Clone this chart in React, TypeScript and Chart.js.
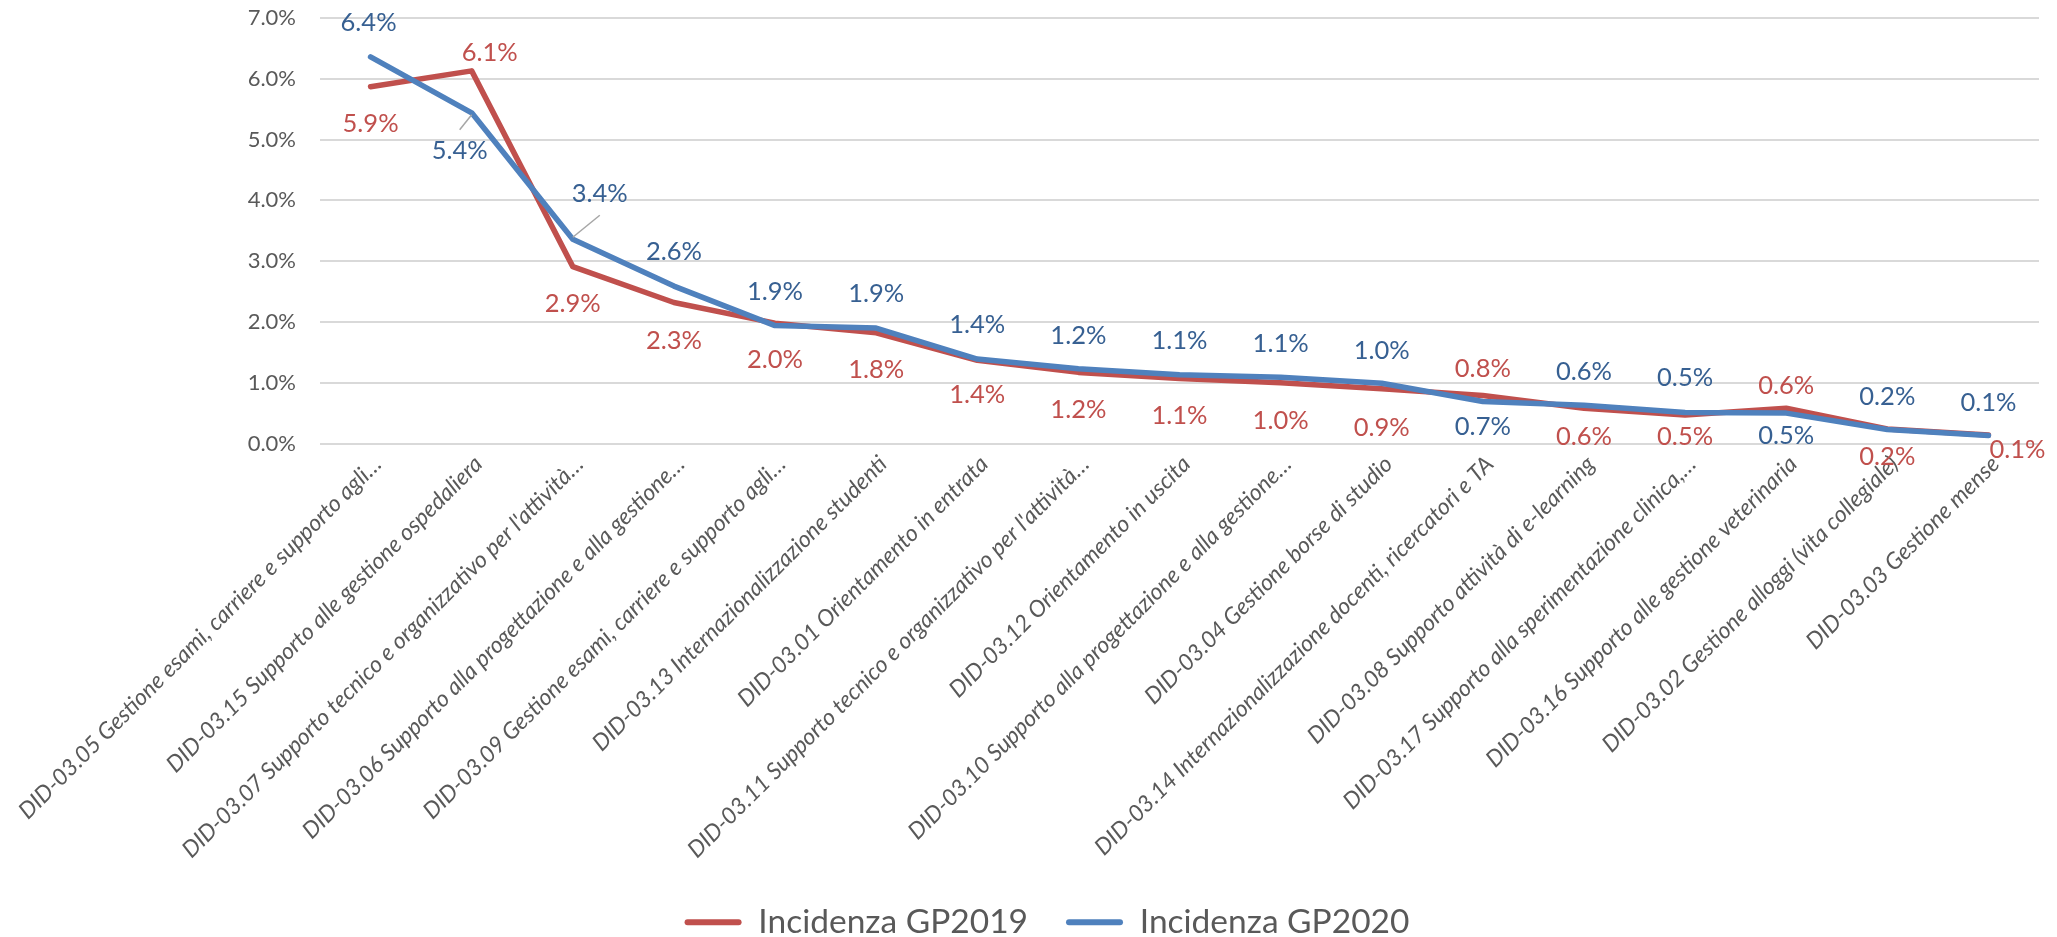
import { useEffect, useRef } from "react";
import { Chart, registerables } from "chart.js";

Chart.register(...registerables);

const categories = [
  "DID-03.05 Gestione esami, carriere e supporto agli…",
  "DID-03.15 Supporto alle gestione ospedaliera",
  "DID-03.07 Supporto tecnico e organizzativo per l'attività…",
  "DID-03.06 Supporto alla progettazione e alla gestione…",
  "DID-03.09 Gestione esami, carriere e supporto agli…",
  "DID-03.13 Internazionalizzazione studenti",
  "DID-03.01 Orientamento in entrata",
  "DID-03.11 Supporto tecnico e organizzativo per l'attività…",
  "DID-03.12 Orientamento in uscita",
  "DID-03.10 Supporto alla progettazione e alla gestione…",
  "DID-03.04 Gestione borse di studio",
  "DID-03.14 Internazionalizzazione docenti, ricercatori e TA",
  "DID-03.08 Supporto attività di e-learning",
  "DID-03.17 Supporto alla sperimentazione clinica,…",
  "DID-03.16 Supporto alle gestione veterinaria",
  "DID-03.02 Gestione alloggi (vita collegiale)",
  "DID-03.03 Gestione mense",
];

const seriesNames = ["Incidenza GP2019", "Incidenza GP2020"];

// values in percent
const gp2019 = [5.87, 6.13, 2.91, 2.32, 1.98, 1.82, 1.37, 1.17, 1.07, 1.0, 0.9, 0.79, 0.58, 0.47, 0.58, 0.24, 0.14];
const gp2020 = [6.36, 5.44, 3.36, 2.59, 1.94, 1.9, 1.39, 1.23, 1.13, 1.09, 0.99, 0.69, 0.63, 0.51, 0.5, 0.23, 0.13];

const yTicks = [0, 1, 2, 3, 4, 5, 6, 7];

// label placement (style only, pixels relative to the point)
const labelDx2019 = [0, 18, 0, 0, 0, 0, 0, 0, 0, 0, 0, 0, 0, 0, 0, 0, 29];
const labelDy2019 = [37, -18, 37, 38, 37, 37, 35, 37, 37, 38, 39, -27, 29, 22, -22, 28, 15];
const labelDx2020 = [-2, -12, 27, 0, 0, 0, 0, 0, 0, 0, 0, 0, 0, 0, 0, 0, 0];
const labelDy2020 = [-34, 38, -45, -34, -34, -34, -34, -33, -34, -33, -33, 25, -33, -35, 23, -33, -33];
const leaders2020 = [1, 2];

const RED = "#C0504D";
const BLUE = "#4F81BD";
const RED_TEXT = "#C0504D";
const BLUE_TEXT = "#376092";
const GREY = "#595959";

const fmt = (v: number) => v.toFixed(1) + "%";

export default function App() {
  const ref = useRef<HTMLCanvasElement>(null);

  useEffect(() => {
    const canvas = ref.current!;
    const labelCfg = [
      { dx: labelDx2019, dy: labelDy2019, color: RED_TEXT, leaders: [] as number[] },
      { dx: labelDx2020, dy: labelDy2020, color: BLUE_TEXT, leaders: leaders2020 },
    ];

    const valueLabels = {
      id: "valueLabels",
      afterDatasetsDraw(chart: any) {
        const ctx = chart.ctx as CanvasRenderingContext2D;
        ctx.save();
        ctx.font = "25.5px Lato";
        ctx.textAlign = "center";
        ctx.textBaseline = "middle";
        chart.data.datasets.forEach((ds: any, i: number) => {
          const meta = chart.getDatasetMeta(i);
          const cfg = labelCfg[i];
          meta.data.forEach((pt: any, j: number) => {
            const x = pt.x + cfg.dx[j];
            const y = pt.y + cfg.dy[j];
            if (cfg.leaders.includes(j)) {
              const s = Math.sign(cfg.dy[j]);
              ctx.strokeStyle = "#A6A6A6";
              ctx.lineWidth = 1.5;
              ctx.beginPath();
              ctx.moveTo(pt.x, pt.y + s * 2);
              ctx.lineTo(pt.x + cfg.dx[j], y - s * 21);
              ctx.stroke();
            }
            ctx.fillStyle = cfg.color;
            ctx.fillText(fmt(ds.data[j]), x, y);
          });
        });
        ctx.restore();
      },
    };

    Chart.defaults.font.family = "Lato";

    const chart = new Chart(canvas, {
      type: "line",
      data: {
        labels: categories,
        datasets: [
          {
            label: seriesNames[0],
            data: gp2019,
            borderColor: RED,
            backgroundColor: RED,
            borderWidth: 5.5,
            pointRadius: 0,
            tension: 0,
            borderJoinStyle: "round",
            borderCapStyle: "round",
            order: 2,
          },
          {
            label: seriesNames[1],
            data: gp2020,
            borderColor: BLUE,
            backgroundColor: BLUE,
            borderWidth: 5.5,
            pointRadius: 0,
            tension: 0,
            borderJoinStyle: "round",
            borderCapStyle: "round",
            order: 1,
          },
        ],
      },
      options: {
        responsive: false,
        animation: false,
        events: [],
        layout: {
          autoPadding: false,
          padding: { left: 55, right: 18, top: 18, bottom: -12 },
        },
        scales: {
          x: {
            type: "category",
            offset: true,
            grid: { display: false, drawTicks: false },
            border: { display: false },
            ticks: {
              autoSkip: false,
              minRotation: 45,
              maxRotation: 45,
              padding: 7,
              labelOffset: 7,
              color: GREY,
              font: { family: "Lato", size: 23, style: "italic" },
            },
            afterFit(scale: any) {
              scale.height = 424;
              scale.paddingLeft = 0;
              scale.paddingRight = 0;
            },
          },
          y: {
            min: 0,
            max: 7,
            grid: { color: "#D9D9D9", lineWidth: 2, drawTicks: false },
            border: { display: false },
            afterBuildTicks(scale: any) {
              scale.ticks = yTicks.map((v) => ({ value: v }));
            },
            ticks: {
              padding: 24,
              color: GREY,
              font: { family: "Lato", size: 22 },
              callback: (v: any) => fmt(Number(v)),
            },
            afterFit(scale: any) {
              scale.width = 265;
              scale.paddingTop = 0;
              scale.paddingBottom = 0;
            },
          },
        },
        plugins: {
          tooltip: { enabled: false },
          legend: {
            position: "bottom",
            labels: {
              boxWidth: 57,
              boxHeight: 6,
              padding: 38,
              color: GREY,
              font: { family: "Lato", size: 33.5 },
              useBorderRadius: true,
              borderRadius: 3,
              sort: (a: any, b: any) => a.datasetIndex - b.datasetIndex,
              generateLabels(chart: any) {
                const items = Chart.defaults.plugins.legend.labels.generateLabels(chart);
                return items.map((it: any) => ({ ...it, lineWidth: 0, fillStyle: it.strokeStyle }));
              },
            },
          },
        },
      },
      plugins: [valueLabels],
    } as any);

    return () => chart.destroy();
  }, []);

  return (
    <div style={{ position: "fixed", left: 0, top: 0, width: 2057, height: 937, background: "#fff" }}>
      <canvas ref={ref} width={2057} height={937} style={{ display: "block" }} />
    </div>
  );
}
